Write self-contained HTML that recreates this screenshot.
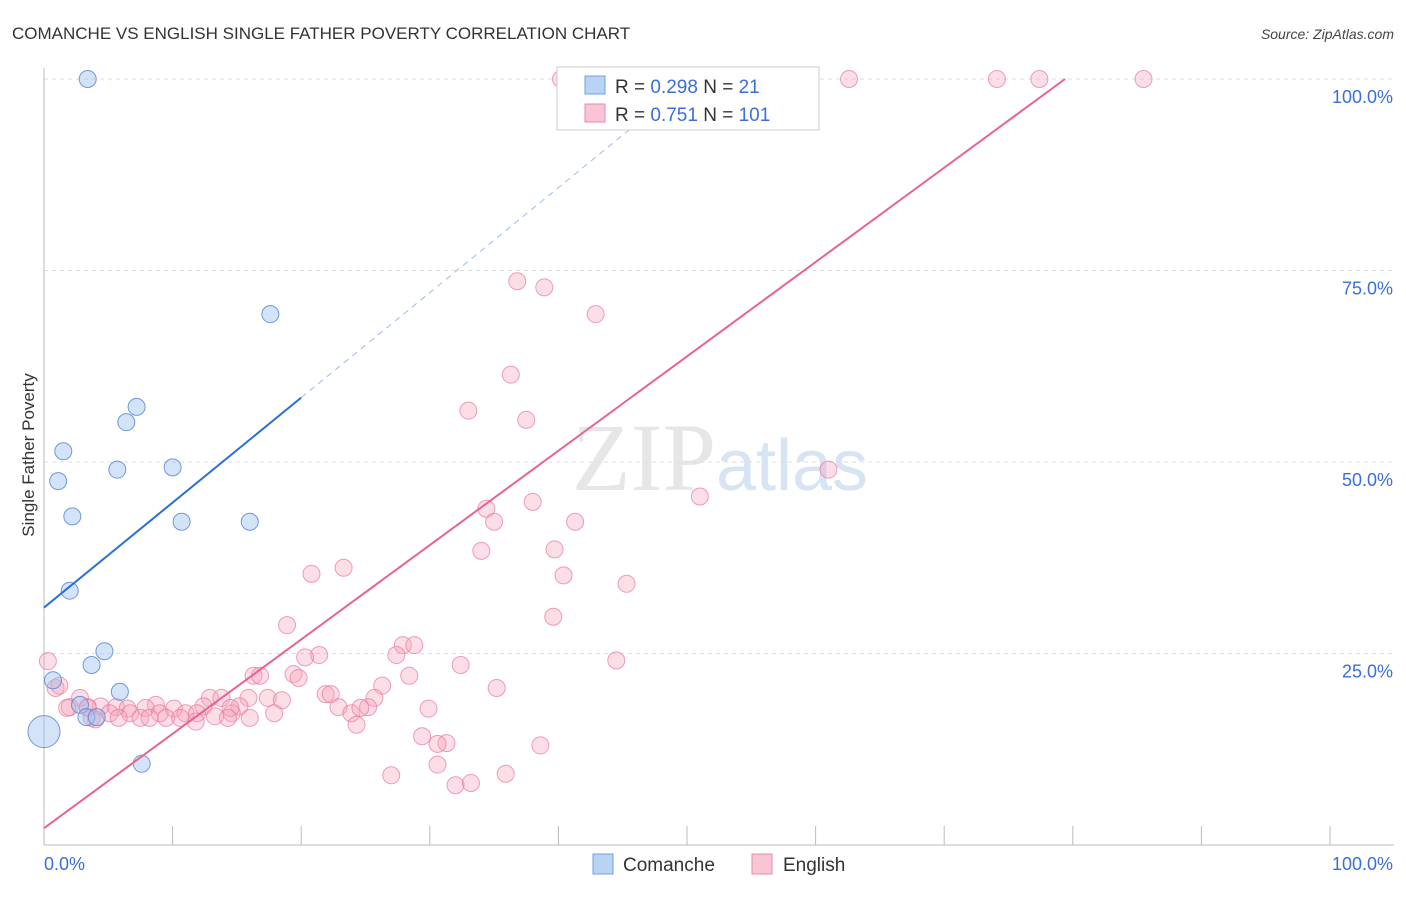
<!DOCTYPE html>
<html><head><meta charset="utf-8"><style>
body{margin:0;background:#fff;font-family:"Liberation Sans",sans-serif;}
</style></head><body>
<svg id="chart" width="1406" height="892" xmlns="http://www.w3.org/2000/svg" font-family="Liberation Sans, sans-serif">
<text x="12" y="39" font-size="17" fill="#333">COMANCHE VS ENGLISH SINGLE FATHER POVERTY CORRELATION CHART</text>
<text x="1394" y="39" font-size="14" font-style="italic" fill="#444" text-anchor="end">Source: ZipAtlas.com</text>
<text transform="translate(34,455) rotate(-90)" font-size="17" fill="#333" text-anchor="middle">Single Father Poverty</text>
<text x="720" y="490" font-size="96" text-anchor="middle" fill="#e6e6e6" font-family="Liberation Serif, serif">ZIP<tspan fill="#d6e4f3" font-family="Liberation Sans, sans-serif" font-size="72">atlas</tspan></text>
<g id="grid"></g><g id="marks"></g>
<g>
<rect x="557" y="67" width="262" height="63" fill="#fff" stroke="#ccc"/>
<rect x="585" y="76" width="20" height="18" fill="#b8d3f3" stroke="#6f9fe0"/>
<rect x="585" y="104" width="20" height="18" fill="#f9c5d4" stroke="#e98aa8"/>
<text x="615" y="93" font-size="19" fill="#333">R = <tspan fill="#3a6fd8">0.298</tspan>   N = <tspan fill="#3a6fd8">  21</tspan></text>
<text x="615" y="121" font-size="19" fill="#333">R =  <tspan fill="#3a6fd8">0.751</tspan>   N = <tspan fill="#3a6fd8">101</tspan></text>
</g>
<g>
<rect x="593" y="854" width="20" height="20" fill="#b8d3f3" stroke="#6f9fe0"/>
<text x="623" y="871" font-size="19" fill="#333">Comanche</text>
<rect x="752" y="854" width="20" height="20" fill="#f9c5d4" stroke="#e98aa8"/>
<text x="783" y="871" font-size="19" fill="#333">English</text>
</g>
</svg>
<script>
const yTicks=[25,50,75,100];
const yTickLabels=["25.0%","50.0%","75.0%","100.0%"];
const xTicks=[0,10,20,30,40,50,60,70,80,90,100];
const comancheX=[3.4,17.6,7.2,6.4,1.5,5.7,10,1.1,2.2,10.7,16,2,4.7,3.7,0.7,5.9,2.8,3.3,4.1,7.6,0];
const comancheY=[100,69.3,57.2,55.2,51.4,49,49.3,47.5,42.9,42.2,42.2,33.2,25.3,23.5,21.5,20,18.3,16.7,16.7,10.6,14.8];
const englishX=[40.2,45.3,47.1,55.5,62.6,74.1,77.4,85.5,36.8,38.9,42.9,36.3,33,37.5,61,51,38,34.4,35,41.3,39.7,34,23.3,20.8,40.4,45.3,39.6,18.9,27.9,28.8,21.4,20.3,27.4,44.5,32.4,0.3,16.3,16.8,19.4,19.8,28.4,26.3,35.2,21.9,22.3,25.7,0.9,1.2,2.8,12.9,13.8,15.9,17.4,18.5,4.4,8.7,7.9,12.4,15.2,22.9,25.2,29.9,2,3.4,5.6,6.5,10.1,11,11.9,14.6,14.5,17.9,23.9,24.6,5.1,6.7,9.0,9.5,7.5,4.0,5.8,8.2,13.3,14.3,11.8,29.4,24.3,31.3,30.6,38.6,30.6,27,35.9,32,33.2,1.8,3.4,3.7,10.6,16];
const englishY=[100,100,100,100,100,100,100,100,73.6,72.8,69.3,61.4,56.7,55.5,49,45.5,44.8,43.9,42.2,42.2,38.6,38.4,36.2,35.4,35.2,34.1,29.8,28.7,26.1,26.1,24.8,24.5,24.8,24.1,23.5,24,22.1,22.1,22.3,21.8,22.1,20.8,20.5,19.7,19.7,19.2,20.5,20.8,19.2,19.2,19.2,19.2,19.2,18.9,18.1,18.3,17.9,18.1,18.1,18,18,17.8,18,18,18,17.8,17.8,17.2,17.2,17.2,17.9,17.2,17.2,17.9,17.2,17.2,17.2,16.6,16.6,16.4,16.6,16.6,16.8,16.6,16.1,14.2,15.7,13.3,13.2,13,10.5,9.1,9.3,7.8,8.1,17.9,17.9,16.6,16.6,16.6];
const NS="http://www.w3.org/2000/svg";
const X=v=>44+v*12.86, Y=v=>845-v*7.66;
function mk(tag,attrs,parent){const e=document.createElementNS(NS,tag);for(const k in attrs)e.setAttribute(k,attrs[k]);parent.appendChild(e);return e;}
const grid=document.getElementById('grid'),marks=document.getElementById('marks');
yTicks.forEach((t,i)=>{
 const l=mk('line',{x1:44,x2:1394,y1:Y(t),y2:Y(t),stroke:'#ddd','stroke-dasharray':'4,4'},grid);
 
 
 const tx=mk('text',{x:1393,y:Y(t)+24,'font-size':18,fill:'#3a6fd8','text-anchor':'end'},grid);
 tx.textContent=yTickLabels[i];
 
 
});
const ax=mk('line',{x1:44,x2:1394,y1:845,y2:845,stroke:'#bbb'},grid);


const ay=mk('line',{x1:44,x2:44,y1:68,y2:845,stroke:'#bbb'},grid);


xTicks.forEach(t=>{
 const l=mk('line',{x1:X(t),x2:X(t),y1:826,y2:845,stroke:'#bbb'},grid);
 
 
});
const xl0=mk('text',{x:44,y:870,'font-size':18,fill:'#3a6fd8'},grid);xl0.textContent='0.0%';


const xl1=mk('text',{x:1393,y:870,'font-size':18,fill:'#3a6fd8','text-anchor':'end'},grid);xl1.textContent='100.0%';


englishX.forEach((v,i)=>{
 const c=mk('circle',{cx:X(v),cy:Y(englishY[i]),r:8.5,fill:'rgba(245,160,185,0.35)',stroke:'rgba(232,120,155,0.7)','stroke-width':1},marks);
 
 
});
comancheX.forEach((v,i)=>{
 const c=mk('circle',{cx:X(v),cy:Y(comancheY[i]),r:i==20?16:8.5,fill:'rgba(160,195,240,0.45)',stroke:'rgba(80,130,210,0.8)','stroke-width':1},marks);
 
 
});
const b1=mk('line',{x1:X(0),y1:Y(31),x2:X(20),y2:Y(58.4),stroke:'#2a6fd6','stroke-width':2},marks);


const b2=mk('line',{x1:X(20),y1:Y(58.4),x2:X(45.6),y2:Y(93.5),stroke:'#9bbbe6','stroke-width':1,'stroke-dasharray':'6,5'},marks);


const p=mk('line',{x1:X(0),y1:Y(2.2),x2:X(79.4),y2:Y(100),stroke:'#e8638f','stroke-width':2},marks);


</script>
</body></html>
